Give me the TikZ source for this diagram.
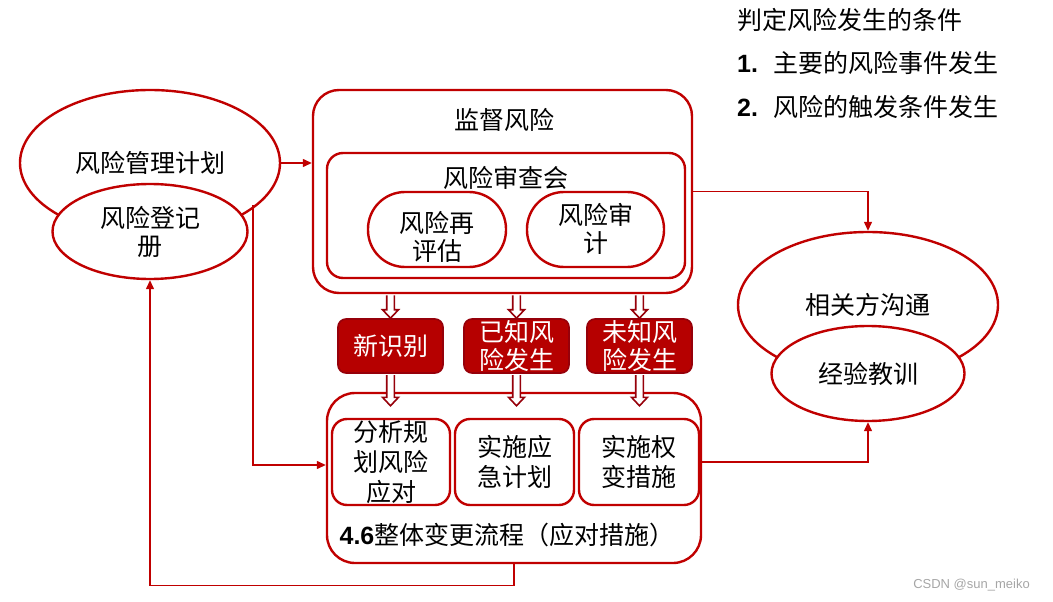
\documentclass[tikz,border=0pt]{standalone}
\usepackage{fontspec}
\setmainfont{Noto Sans CJK SC}
\newfontfamily\latin{Liberation Sans}
\usetikzlibrary{shapes.geometric,arrows.meta,calc}
\definecolor{rd}{RGB}{192,0,0}
\definecolor{dr}{RGB}{150,0,10}
\definecolor{rf}{RGB}{182,0,0}
\newcommand\hollowdown[2]{\path[harrow] let \p1=(#1), \p2=(#2) in
  (\x2-3.8pt,\y1-1.2pt) -- (\x2-3.8pt,\y2+8.5pt) -- (\x2-8pt,\y2+8.5pt) -- (\x2,\y2)
  -- (\x2+8pt,\y2+8.5pt) -- (\x2+3.8pt,\y2+8.5pt) -- (\x2+3.8pt,\y1-1.2pt);}
\begin{document}
\begin{tikzpicture}[x=1pt,y=-1pt,
  every node/.style={font=\fontsize{25}{28}\selectfont, inner sep=0pt, align=center},
  ell/.style={ellipse, draw=rd, line width=2.4pt, fill=white},
  rbox/.style={rectangle, draw=rd, line width=2.4pt, fill=white},
  redbox/.style={rectangle, rounded corners=8pt, draw=dr, line width=1.6pt, fill=rf, text=white, minimum width=105pt, minimum height=54pt},
  inbox/.style={rbox, rounded corners=15pt, minimum height=86pt, font=\fontsize{25}{30}\selectfont},
  conn/.style={draw=rd, line width=1.3pt},
  tip/.style={-{Triangle[length=9pt,width=8pt]}},
  harrow/.style={draw=dr, fill=white, line width=1.6pt, line join=miter},
]
\useasboundingbox (0,0) rectangle (1053,602);

% left ellipses
\node[ell, minimum width=260pt, minimum height=146pt] (plan) at (150,163) {风险管理计划};
\node[ell, minimum width=195pt, minimum height=95pt] (reg) at (150,231.5) {风险登记\\册};

% right ellipses
\node[ell, minimum width=260pt, minimum height=146pt] (comm) at (868,305) {相关方沟通};
\node[ell, minimum width=193pt, minimum height=95pt] (lesson) at (868,373.5) {经验教训};

% monitoring box
\node[rbox, rounded corners=26pt, minimum width=379pt, minimum height=203pt] (monitor) at (502.5,191.5) {};
\node (monitorlbl) at (504,120) {监督风险};
\node[rbox, rounded corners=16pt, minimum width=358pt, minimum height=125pt] (review) at (506,215.5) {};
\node (reviewlbl) at (506,178) {风险审查会};
\node[rbox, rounded corners=37pt, minimum width=138pt, minimum height=75pt] (reassess) at (437,229.5) {};
\node (reassesslbl) at (437,237) {风险再\\评估};
\node[rbox, rounded corners=37pt, minimum width=137pt, minimum height=75pt] (audit) at (595.5,229.5) {};
\node (auditlbl) at (595.5,229) {风险审\\计};

% red boxes
\node[redbox] (new) at (390.5,346) {新识别};
\node[redbox] (known) at (516.5,346) {已知风\\险发生};
\node[redbox] (unknown) at (639.5,346) {未知风\\险发生};

% change box
\node[rbox, rounded corners=28pt, minimum width=374pt, minimum height=170pt] (chg) at (514,478) {};
\node[inbox, minimum width=118pt] (analyse) at (391,462) {分析规\\划风险\\应对};
\node[inbox, minimum width=119pt] (emerg) at (514.5,462) {实施应\\急计划};
\node[inbox, minimum width=120pt] (work) at (639,462) {实施权\\变措施};
\node (chglbl) at (507,535) {{\latin\bfseries 4.6}整体变更流程（应对措施）};

% hollow arrows
\hollowdown{monitor.south}{new.north}
\hollowdown{monitor.south}{known.north}
\hollowdown{monitor.south}{unknown.north}
\hollowdown{new.south}{$(new.south |- chg.north)+(0,14)$}
\hollowdown{known.south}{$(known.south |- chg.north)+(0,14)$}
\hollowdown{unknown.south}{$(unknown.south |- chg.north)+(0,14)$}

% connectors
\draw[conn, tip] (plan.east) -- (plan.east -| monitor.west);
\coordinate (pout) at (253,205);
\draw[conn, tip] (pout) |- ([yshift=13pt]chg.west);
\draw[conn, tip] (chg.south) -- ++(0,21) -| (reg.south);
\draw[conn, tip] (monitor.east) -| (comm.north);
\draw[conn, tip] ([yshift=16pt]chg.east) -| (lesson.south);

% conditions text
\node[anchor=west] (cond) at (737,20) {判定风险发生的条件};
\node[anchor=west] (c1) at (737,63) {\makebox[36pt][l]{\latin\bfseries 1.}主要的风险事件发生};
\node[anchor=west] (c2) at (737,107) {\makebox[36pt][l]{\latin\bfseries 2.}风险的触发条件发生};

% watermark
\node[anchor=east, text=gray!70, font=\latin\fontsize{13}{15}\selectfont] (wm) at (1030,585) {CSDN @sun\_meiko};
\end{tikzpicture}
\end{document}
